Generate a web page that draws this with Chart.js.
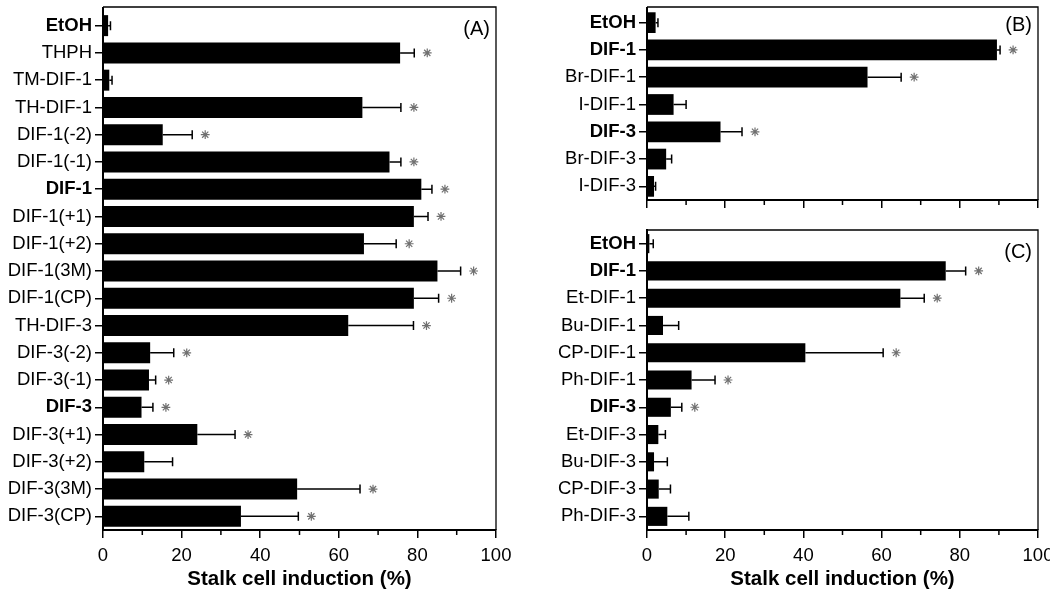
<!DOCTYPE html>
<html lang="en">
  <head>
    <meta charset="UTF-8" />
    <title>Stalk cell induction</title>
    <script src="https://cdn.jsdelivr.net/npm/chart.js@4.4.1/dist/chart.umd.min.js"></script>
    <style>
      body { margin: 0; background: #fff; }
      canvas { position: absolute; }
    </style>
  </head>
  <body>
    <canvas id="chartA" width="520" height="594" style="left:0;top:0"></canvas>
    <canvas id="chartB" width="520" height="215" style="left:530px;top:0"></canvas>
    <canvas id="chartC" width="520" height="379" style="left:530px;top:215px"></canvas>
    <script>
      // panel (A)
      const labelsA = ['EtOH', 'THPH', 'TM-DIF-1', 'TH-DIF-1', 'DIF-1(-2)', 'DIF-1(-1)', 'DIF-1', 'DIF-1(+1)', 'DIF-1(+2)', 'DIF-1(3M)', 'DIF-1(CP)', 'TH-DIF-3', 'DIF-3(-2)', 'DIF-3(-1)', 'DIF-3', 'DIF-3(+1)', 'DIF-3(+2)', 'DIF-3(3M)', 'DIF-3(CP)'];
      const valuesA = [1.3, 75.6, 1.6, 66, 15.2, 72.9, 81, 79.1, 66.4, 85.1, 79.1, 62.4, 12, 11.7, 9.8, 24, 10.5, 49.4, 35.1];
      const errorsA = [0.6, 3.6, 0.7, 9.8, 7.5, 2.9, 2.7, 3.6, 8.2, 5.9, 6.3, 16.6, 6, 1.7, 2.9, 9.6, 7.2, 16, 14.6];
      const starsA = [0, 1, 0, 1, 1, 1, 1, 1, 1, 1, 1, 1, 1, 1, 1, 1, 0, 1, 1];

      // panel (B)
      const labelsB = ['EtOH', 'DIF-1', 'Br-DIF-1', 'I-DIF-1', 'DIF-3', 'Br-DIF-3', 'I-DIF-3'];
      const valuesB = [2.2, 89.5, 56.4, 6.8, 18.8, 4.9, 1.8];
      const errorsB = [0.6, 0.8, 8.6, 3.2, 5.5, 1.4, 0.4];
      const starsB = [0, 1, 1, 0, 1, 0, 0];

      // panel (C)
      const labelsC = ['EtOH', 'DIF-1', 'Et-DIF-1', 'Bu-DIF-1', 'CP-DIF-1', 'Ph-DIF-1', 'DIF-3', 'Et-DIF-3', 'Bu-DIF-3', 'CP-DIF-3', 'Ph-DIF-3'];
      const valuesC = [0.6, 76.4, 64.8, 4.1, 40.5, 11.4, 6.1, 2.9, 1.8, 3.0, 5.2];
      const errorsC = [1.0, 5.1, 6.1, 4.0, 19.9, 6.0, 2.8, 1.8, 3.4, 3.0, 5.5];
      const starsC = [0, 1, 1, 0, 1, 1, 1, 0, 0, 0, 0];

      const xTicks = [0, 10, 20, 30, 40, 50, 60, 70, 80, 90, 100];
      const boldLabels = ['EtOH', 'DIF-1', 'DIF-3'];

      const FONT = "'Liberation Sans', Arial, Helvetica, sans-serif";
      Chart.defaults.font.family = FONT;
      Chart.defaults.color = '#000';

      // error bars, asterisks, box border, minor ticks, panel letter
      const decorations = {
        id: 'decorations',
        afterDatasetsDraw(chart, args, opts) {
          const ctx = chart.ctx;
          const x = chart.scales.x;
          const area = chart.chartArea;
          const meta = chart.getDatasetMeta(0);
          const boxTop = area.top - opts.boxExtra;
          ctx.save();
          ctx.strokeStyle = '#000';
          ctx.lineWidth = 1.5;
          meta.data.forEach((bar, i) => {
            const x0 = x.getPixelForValue(opts.values[i]);
            const x1 = x.getPixelForValue(opts.values[i] + opts.errors[i]);
            ctx.beginPath();
            ctx.moveTo(x0, bar.y);
            ctx.lineTo(x1, bar.y);
            ctx.moveTo(x1, bar.y - 4.5);
            ctx.lineTo(x1, bar.y + 4.5);
            ctx.stroke();
            if (opts.stars[i]) {
              const cx = x1 + 13, cy = bar.y, r = 4.4;
              ctx.save();
              ctx.strokeStyle = '#707070';
              ctx.lineWidth = 1.2;
              ctx.beginPath();
              for (let k = 0; k < 4; k++) {
                const a = k * Math.PI / 4;
                ctx.moveTo(cx - r * Math.cos(a), cy - r * Math.sin(a));
                ctx.lineTo(cx + r * Math.cos(a), cy + r * Math.sin(a));
              }
              ctx.stroke();
              ctx.restore();
            }
          });
          // box: extend the left axis up, then top and right border
          ctx.lineWidth = 2;
          ctx.beginPath();
          ctx.moveTo(area.left, area.top + 1);
          ctx.lineTo(area.left, boxTop);
          ctx.stroke();
          ctx.lineWidth = 1.3;
          ctx.beginPath();
          ctx.moveTo(area.left, boxTop);
          ctx.lineTo(area.right, boxTop);
          ctx.lineTo(area.right, area.bottom);
          ctx.stroke();
          // short minor ticks
          ctx.lineWidth = 1.5;
          ctx.beginPath();
          xTicks.forEach((v, i) => {
            if (i % 2 === 1) {
              const px = x.getPixelForValue(v);
              ctx.moveTo(px, area.bottom);
              ctx.lineTo(px, area.bottom + 5);
            }
          });
          ctx.stroke();
          // panel letter
          ctx.fillStyle = '#000';
          ctx.font = '20px ' + FONT;
          ctx.textAlign = 'right';
          ctx.textBaseline = 'middle';
          ctx.fillText(opts.letter, area.right - 6, boxTop + opts.letterY);
          ctx.restore();
        }
      };

      function makeChart(id, labels, values, errors, stars, cfg) {
        return new Chart(document.getElementById(id), {
          type: 'bar',
          data: {
            labels: labels,
            datasets: [{
              data: values,
              backgroundColor: '#000',
              borderWidth: 0,
              barPercentage: cfg.barPct,
              categoryPercentage: 1,
            }],
          },
          plugins: [decorations],
          options: {
            indexAxis: 'y',
            responsive: false,
            animation: false,
            layout: { padding: cfg.padding },
            plugins: {
              legend: { display: false },
              tooltip: { enabled: false },
              decorations: { values, errors, stars, letter: cfg.letter, letterY: cfg.letterY, boxExtra: cfg.boxExtra },
            },
            scales: {
              y: {
                grid: { drawOnChartArea: false, offset: false, tickLength: 8, color: '#000', lineWidth: 1.5 },
                border: { display: true, color: '#000', width: 2 },
                ticks: {
                  padding: 3,
                  color: '#000',
                  font: c => ({ family: FONT, size: 18.5, weight: boldLabels.includes(labels[c.index]) ? 'bold' : 'normal' }),
                },
                afterFit: s => { s.width = cfg.yWidth; s.paddingTop = 0; s.paddingBottom = 0; },
              },
              x: {
                min: 0,
                max: 100,
                afterBuildTicks: s => { s.ticks = xTicks.map(v => ({ value: v })); },
                grid: {
                  drawOnChartArea: false,
                  tickLength: 8,
                  lineWidth: 1.5,
                  tickColor: c => (c.index % 2 === 0 ? '#000' : 'rgba(0,0,0,0)'),
                },
                border: { display: true, color: '#000', width: 2 },
                ticks: {
                  autoSkip: false,
                  maxRotation: 0,
                  padding: 7,
                  color: '#000',
                  font: { size: 18.5 },
                  callback: v => (cfg.showX && v % 20 === 0 ? v : ''),
                },
                title: {
                  display: cfg.showX,
                  text: 'Stalk cell induction (%)',
                  font: { size: 20.5, weight: 'bold' },
                  padding: { top: 0, bottom: 2 },
                  color: '#000',
                },
                afterFit: s => { s.height = cfg.xHeight; s.paddingLeft = 0; s.paddingRight = 0; },
              },
            },
          },
        });
      }

      makeChart('chartA', labelsA, valuesA, errorsA, starsA, {
        barPct: 0.77, padding: { left: 0, top: 12, right: 24, bottom: 0 },
        yWidth: 103, xHeight: 64, showX: true, letter: '(A)', letterY: 22, boxExtra: 5,
      });
      makeChart('chartB', labelsB, valuesB, errorsB, starsB, {
        barPct: 0.76, padding: { left: 0, top: 9, right: 12, bottom: 0 },
        yWidth: 117, xHeight: 15, showX: false, letter: '(B)', letterY: 18, boxExtra: 2,
      });
      makeChart('chartC', labelsC, valuesC, errorsC, starsC, {
        barPct: 0.7, padding: { left: 0, top: 15, right: 12, bottom: 0 },
        yWidth: 117, xHeight: 64, showX: true, letter: '(C)', letterY: 22, boxExtra: 0,
      });
    </script>
  </body>
</html>
